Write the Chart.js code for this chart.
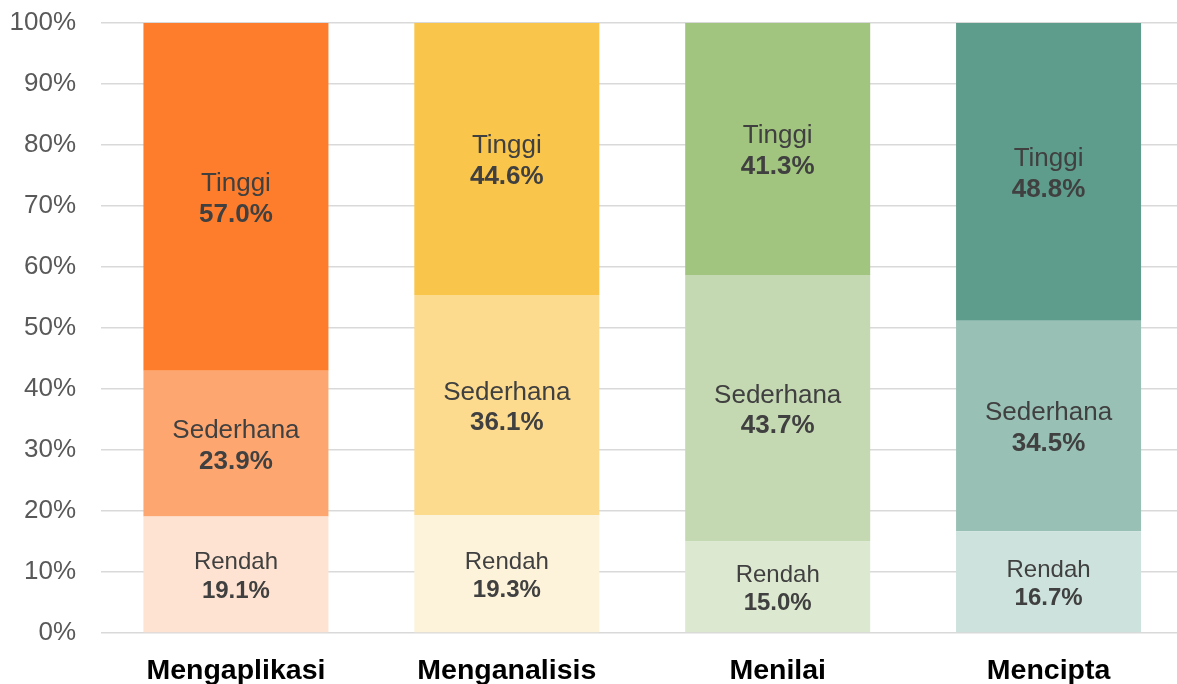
<!DOCTYPE html>
<html>
<head>
<meta charset="utf-8">
<script src="https://cdn.jsdelivr.net/npm/chart.js@4.4.0/dist/chart.umd.min.js"></script>
<style>
html,body{margin:0;padding:0;background:#fff;overflow:hidden;}
#wrap{width:1184px;height:684px;position:relative;}
</style>
</head>
<body>
<div id="wrap"><canvas id="c" width="1184" height="684"></canvas></div>
<script>
const categories = ["Mengaplikasi", "Menganalisis", "Menilai", "Mencipta"];
const seriesNames = ["Rendah", "Sederhana", "Tinggi"];
const rendah = [19.1, 19.3, 15.0, 16.7];
const sederhana = [23.9, 36.1, 43.7, 34.5];
const tinggi = [57.0, 44.6, 41.3, 48.8];
const rendahColors = ["#FEE3D2", "#FDF3DA", "#DCE8CF", "#CDE2DC"];
const sederhanaColors = ["#FEA670", "#FCDB8E", "#C4D9B2", "#98C0B5"];
const tinggiColors = ["#FE7D2C", "#F9C64B", "#A1C47F", "#5E9C8B"];
const yTicks = [0,10,20,30,40,50,60,70,80,90,100];

const labelSizes = [24, 26, 26];
const FONT = '"Liberation Sans", Arial, sans-serif';

const labelPlugin = {
  id: 'segLabels',
  afterDatasetsDraw(chart) {
    const ctx = chart.ctx;
    chart.data.datasets.forEach((ds, di) => {
      const meta = chart.getDatasetMeta(di);
      meta.data.forEach((bar, i) => {
        const p = bar.getProps(['x','y','base'], true);
        const cy = (p.y + p.base) / 2 + 2.5;
        const fs = labelSizes[di];
        const off = fs * 0.59;
        ctx.save();
        ctx.fillStyle = '#404040';
        ctx.textAlign = 'center';
        ctx.textBaseline = 'middle';
        ctx.font = fs + 'px ' + FONT;
        ctx.fillText(ds.label, p.x, cy - off);
        ctx.font = 'bold ' + fs + 'px ' + FONT;
        ctx.fillText(ds.data[i].toFixed(1) + '%', p.x, cy + off);
        ctx.restore();
      });
    });
  }
};

new Chart(document.getElementById('c'), {
  type: 'bar',
  data: {
    labels: categories,
    datasets: [
      { label: seriesNames[0], data: rendah, backgroundColor: rendahColors },
      { label: seriesNames[1], data: sederhana, backgroundColor: sederhanaColors },
      { label: seriesNames[2], data: tinggi, backgroundColor: tinggiColors }
    ]
  },
  options: {
    responsive: false,
    animation: false,
    devicePixelRatio: 1,
    layout: { padding: 0 },
    datasets: { bar: { categoryPercentage: 1.0, barPercentage: 0.683, borderWidth: 0 } },
    plugins: { legend: { display: false }, tooltip: { enabled: false } },
    scales: {
      x: {
        stacked: true,
        grid: { display: false },
        border: { display: false },
        ticks: { color: '#000', font: { family: FONT, size: 28.5, weight: 'bold' }, padding: 13 },
        afterFit(s) { s.height = 51; }
      },
      y: {
        stacked: true,
        min: 0, max: 100,
        afterBuildTicks(s) { s.ticks = yTicks.map(v => ({ value: v })); },
        grid: { color: '#D9D9D9', lineWidth: 1.5, drawTicks: true, tickLength: 17, tickColor: 'rgba(0,0,0,0)' },
        border: { display: false },
        ticks: { color: '#595959', font: { family: FONT, size: 26 }, padding: 7.5, callback: v => v + '%' },
        afterFit(s) { s.width = 100.5; }
      }
    }
  },
  plugins: [labelPlugin]
});
</script>
</body>
</html>
